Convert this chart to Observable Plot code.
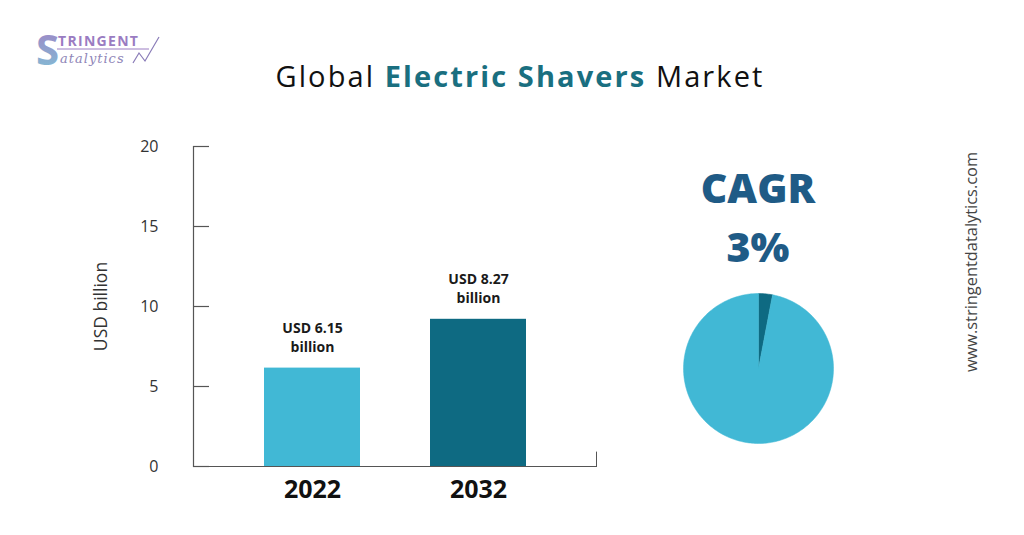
<!DOCTYPE html>
<html><head><meta charset="utf-8">
<script src="https://cdn.jsdelivr.net/npm/d3@7"></script>
<script src="https://cdn.jsdelivr.net/npm/@observablehq/plot@0.6"></script>
<style>
html,body{margin:0;padding:0;background:#fff;}
#wrap{position:relative;width:1024px;height:535px;overflow:hidden;background:#fff;font-family:"Open Sans",sans-serif;}
#wrap > *{position:absolute;}
#main{left:0;top:0;}
#pie{left:678px;top:287.5px;}
#overlay{left:0;top:0;pointer-events:none;}
</style></head>
<body><div id="wrap"></div>
<script>
// ---- data ----
const years = ["2022", "2032"];
const marketValues = [6.15, 9.2];            // bar heights as drawn (USD billion)
const valueLabels = ["USD 6.15\nbillion", "USD 8.27\nbillion"];
const barColors = ["#41b8d5", "#0e6a82"];
const yTicks = [0, 5, 10, 15, 20];
const cagrLabel = "CAGR";
const cagrValue = "3%";
const pieShares = [3, 97];
const pieNames = ["CAGR", "rest"];
const pieColors = ["#0e6a82", "#41b8d5"];

const wrap = document.getElementById("wrap");
const bars = years.map((year, i) => ({year, value: marketValues[i], label: valueLabels[i]}));

const main = Plot.plot({
  width: 1024, height: 535,
  marginLeft: 193, marginRight: 427, marginTop: 146, marginBottom: 69,
  style: {fontFamily: "'Open Sans', sans-serif", background: "transparent", overflow: "visible"},
  x: {domain: years, padding: 0.42, label: null},
  y: {domain: [0, 20], label: null},
  color: {domain: years, range: barColors},
  marks: [
    Plot.barY(bars, {x: "year", y: "value", fill: "year"}),
    Plot.text(bars, {x: "year", y: "value", text: "label", lineAnchor: "bottom", dy: -16,
      fontSize: 14, fontWeight: 700, fill: "#1a1a1a", lineHeight: 1.35}),
    Plot.ruleY([0], {stroke: "#555", strokeWidth: 1.2}),
    Plot.frame({anchor: "left", stroke: "#555", strokeWidth: 1.2}),
    Plot.tickY(yTicks, {y: d => d, insetRight: 388, stroke: "#555", strokeWidth: 1.2}),
    Plot.rect([0], {y1: 0, y2: 0.9, insetLeft: 403, fill: "#555"}),
    Plot.axisY({ticks: yTicks, tickSize: 0, tickPadding: 35, fontSize: 16, fill: "#333", label: null}),
    Plot.axisY({ticks: [], tickSize: 0, fontSize: 17.5, fill: "#333",
      label: "USD billion", labelAnchor: "center", labelOffset: 99, labelArrow: "none"}),
    Plot.axisX({tickSize: 0, tickPadding: 14, fontSize: 25, fontWeight: 700, fill: "#111"})
  ]
});
main.id = "main";
wrap.appendChild(main);

// pie
const arcs = d3.pie().sort(null)(pieShares);
const sliceMarks = arcs.map((a, i) => {
  const n = Math.max(2, Math.ceil((a.endAngle - a.startAngle) / 0.02));
  const pts = [{x: 0, y: 0}];
  for (let k = 0; k <= n; k++) {
    const t = a.startAngle + (a.endAngle - a.startAngle) * k / n;
    pts.push({x: Math.sin(t), y: Math.cos(t)});
  }
  pts.push({x: 0, y: 0});
  return Plot.line(pts, {x: "x", y: "y", fill: pieColors[i], stroke: pieColors[i], strokeWidth: 0.5, curve: "linear"});
});
const pie = Plot.plot({
  width: 160, height: 160, margin: 5,
  x: {domain: [-1, 1], axis: null},
  y: {domain: [-1, 1], axis: null},
  style: {background: "transparent"},
  marks: sliceMarks
});
pie.id = "pie";
wrap.appendChild(pie);

// decorative texts
const ns = "http://www.w3.org/2000/svg";
const ov = document.createElementNS(ns, "svg");
ov.setAttribute("id", "overlay");
ov.setAttribute("width", 1024); ov.setAttribute("height", 535);
ov.innerHTML = `
<defs><linearGradient id="lg" x1="0" y1="0" x2="0" y2="1">
<stop offset="0" stop-color="#a37cc4"/><stop offset="1" stop-color="#7ec4d6"/></linearGradient></defs>
<text x="520" y="87" text-anchor="middle" font-family="Open Sans" font-size="29" letter-spacing="2.1" fill="#111">Global <tspan font-weight="700" fill="#1a6f80">Electric Shavers</tspan> Market</text>
<text x="758" y="203" text-anchor="middle" font-family="Open Sans" font-weight="800" font-size="41" fill="#1f5b86">${cagrLabel}</text>
<text x="758" y="262" text-anchor="middle" font-family="Open Sans" font-weight="800" font-size="41" fill="#1f5b86">${cagrValue}</text>
<text transform="translate(977,262) rotate(-90)" text-anchor="middle" font-family="Open Sans" font-size="16.4" fill="#444">www.stringentdatalytics.com</text>
<text x="36" y="65" font-family="Open Sans" font-weight="700" font-size="42" fill="url(#lg)">S</text>
<text x="58" y="46" font-family="Open Sans" font-weight="700" font-size="14" letter-spacing="1.3" fill="#9a7cc2">TRINGENT</text>
<line x1="57" y1="49" x2="149" y2="49" stroke="#9a7cc2" stroke-width="1"/>
<text x="60" y="63" font-family="DejaVu Serif" font-style="italic" font-size="13" letter-spacing="1" fill="#8f86b8">atalytics</text>
<polyline points="133,63 139,53 145,61 159,37" fill="none" stroke="#8a7cb8" stroke-width="1.2"/>
`;
wrap.appendChild(ov);
</script>
</body></html>
